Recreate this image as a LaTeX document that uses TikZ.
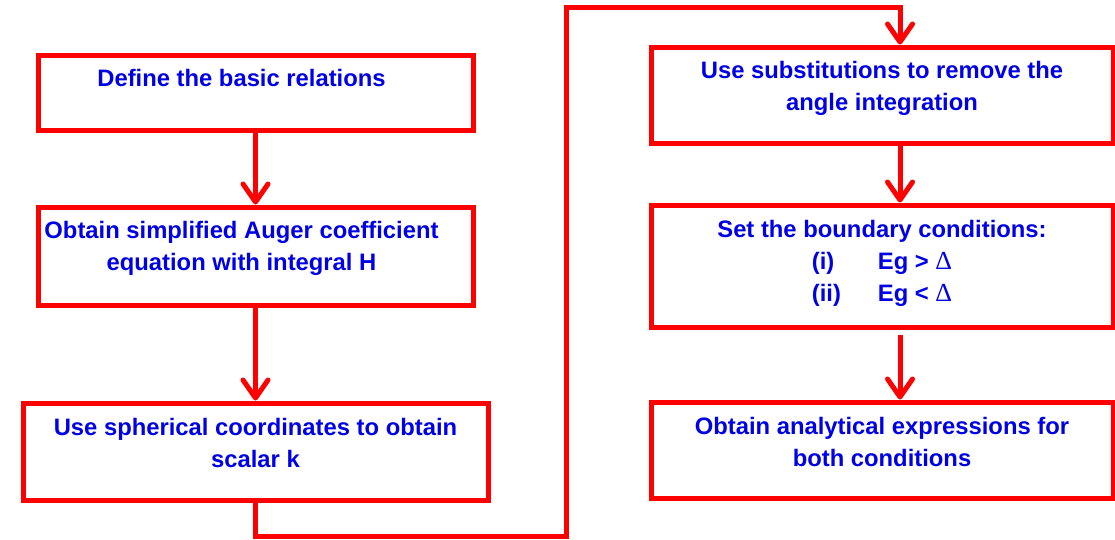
\documentclass[tikz,border=0pt]{standalone}
\usepackage{fontspec}
\setmainfont{Liberation Sans}
\newfontfamily\greekfont{Liberation Serif}
\usetikzlibrary{arrows.meta,calc}
\definecolor{boxred}{RGB}{255,0,0}
\definecolor{txtblue}{RGB}{0,0,230}
\newcommand{\Dlt}{{\greekfont\mdseries\fontsize{26}{32}\selectfont\symbol{"0394}}}
\begin{document}
\begin{tikzpicture}[x=1pt,y=-1pt,
  stepbox/.style={draw=boxred,line width=5pt,rectangle,inner sep=0pt,minimum width=#1},
  stepbox/.default=435pt,
  steptext/.style={text=txtblue,inner sep=0pt,anchor=base,
    font=\fontsize{23.8}{32}\selectfont\bfseries},
  flow/.style={draw=boxred,line width=5pt,
    -{Straight Barb[length=18pt,width=25pt,line cap=round,line join=round]}}]
\useasboundingbox (0,0) rectangle (1115,539);

% left column
\node[stepbox,minimum height=75pt] (b1) at (255.5,92.5) {};
\node[stepbox,minimum height=98pt] (b2) at (255.5,256) {};
\node[stepbox=465pt,minimum height=97pt] (b3) at (255.5,451.5) {};

% right column
\node[stepbox=462pt,minimum height=96pt] (b4) at (882,95) {};
\node[stepbox=462pt,minimum height=122pt] (b5) at (882,266) {};
\node[stepbox=462pt,minimum height=96pt] (b6) at (882,450) {};

% labels
\node[steptext] (t1) at ($(b1.north)+(-14,34)$)
  {\parbox[t]{430pt}{\centering Define the basic relations}};
\node[steptext] (t2) at ($(b2.north)+(-14,34)$)
  {\parbox[t]{430pt}{\centering Obtain simplified Auger coefficient\\ equation with integral H}};
\node[steptext] (t3) at ($(b3.north)+(0,35)$)
  {\parbox[t]{460pt}{\centering Use spherical coordinates to obtain\\ scalar k}};
\node[steptext] (t4) at ($(b4.north)+(0,34)$)
  {\parbox[t]{455pt}{\centering Use substitutions to remove the\\ angle integration}};
\node[steptext] (t5) at ($(b5.north)+(0,35)$)
  {\parbox[t]{455pt}{\centering Set the boundary conditions:\\
   \begin{tabular}[t]{@{}l@{\hspace{37pt}}l@{}}
   (i) & Eg > \Dlt\\
   (ii) & Eg < \Dlt
   \end{tabular}}};
\node[steptext] (t6) at ($(b6.north)+(0,35)$)
  {\parbox[t]{455pt}{\centering Obtain analytical expressions for\\ both conditions}};

% route from the left column up to the right column
\coordinate (c1) at (255.5,536);
\coordinate (c2) at (566,536);
\coordinate (c3) at (566,7);
\coordinate (c4) at (900,7);
\coordinate (c5) at (900,335);

% connectors
\draw[flow] (b1.south) -- (b2.north);
\draw[flow] (b2.south) -- (b3.north);
\draw[flow,line join=miter] (b3.south) -- (c1) -- (c2) -- (c3) -- (c4) -- (b4.north -| c4);
\draw[flow] (b4.south -| c4) -- (b5.north -| c4);
\draw[flow] (c5) -- (b6.north -| c5);
\end{tikzpicture}
\end{document}
